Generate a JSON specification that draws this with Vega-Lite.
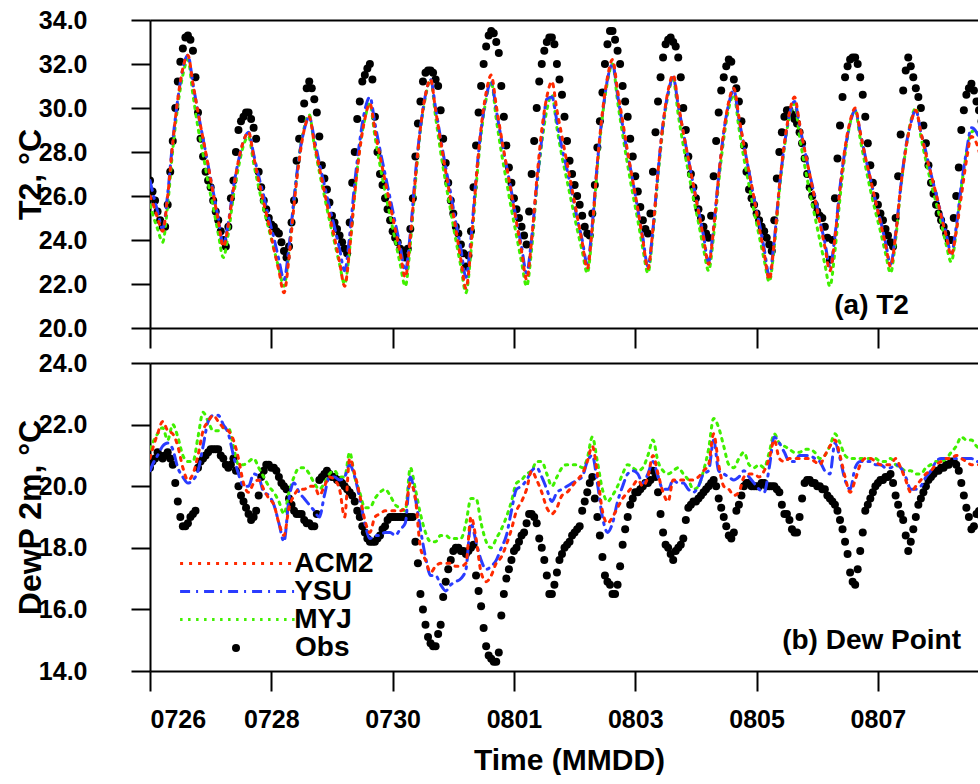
{
"$schema":"https://vega.github.io/schema/vega-lite/v6.json",
"background":"white",
"padding":{"left":14,"top":8,"right":0,"bottom":0},
"config":{"font":"Liberation Sans","view":{"stroke":null},"text":{"font":"Liberation Sans"}},
"datasets":{
"t2":[
{"h":0,"ACM2":26.0,"YSU":26.7,"MYJ":25.6},{"h":1,"ACM2":25.7,"YSU":26.2,"MYJ":25.2},{"h":3,"ACM2":25.0,"YSU":25.3,"MYJ":24.5},{"h":5,"ACM2":24.4,"YSU":24.5,"MYJ":23.9},{"h":7,"ACM2":26.0,"YSU":26.1,"MYJ":25.6},{"h":9,"ACM2":28.4,"YSU":28.5,"MYJ":28.1},{"h":11,"ACM2":30.4,"YSU":30.4,"MYJ":30.1},{"h":13,"ACM2":31.8,"YSU":31.8,"MYJ":31.5},{"h":15,"ACM2":32.4,"YSU":32.4,"MYJ":32.2},{"h":17,"ACM2":31.1,"YSU":31.1,"MYJ":30.6},{"h":19,"ACM2":29.8,"YSU":29.8,"MYJ":29.1},{"h":21,"ACM2":28.6,"YSU":28.6,"MYJ":27.9},{"h":23,"ACM2":27.4,"YSU":27.4,"MYJ":26.6},
{"h":25,"ACM2":26.1,"YSU":26.2,"MYJ":25.5},{"h":27,"ACM2":24.9,"YSU":25.0,"MYJ":24.3},{"h":29,"ACM2":23.7,"YSU":23.8,"MYJ":23.2},{"h":31,"ACM2":24.7,"YSU":24.8,"MYJ":24.3},{"h":33,"ACM2":26.3,"YSU":26.4,"MYJ":26.0},{"h":35,"ACM2":27.6,"YSU":27.6,"MYJ":27.3},{"h":37,"ACM2":28.5,"YSU":28.5,"MYJ":28.3},{"h":39,"ACM2":28.9,"YSU":28.9,"MYJ":28.7},{"h":41,"ACM2":27.8,"YSU":27.9,"MYJ":27.5},{"h":43,"ACM2":26.7,"YSU":26.9,"MYJ":26.4},{"h":45,"ACM2":25.7,"YSU":26.0,"MYJ":25.4},{"h":47,"ACM2":24.7,"YSU":25.0,"MYJ":24.5},
{"h":49,"ACM2":23.6,"YSU":24.1,"MYJ":23.6},{"h":51,"ACM2":22.6,"YSU":23.1,"MYJ":22.7},{"h":53,"ACM2":21.6,"YSU":22.2,"MYJ":21.9},{"h":55,"ACM2":23.2,"YSU":23.7,"MYJ":23.5},{"h":57,"ACM2":25.6,"YSU":25.9,"MYJ":25.8},{"h":59,"ACM2":27.6,"YSU":27.8,"MYJ":27.8},{"h":61,"ACM2":29.0,"YSU":29.0,"MYJ":29.1},{"h":63,"ACM2":29.6,"YSU":29.6,"MYJ":29.7},{"h":65,"ACM2":28.4,"YSU":28.6,"MYJ":28.3},{"h":67,"ACM2":27.3,"YSU":27.5,"MYJ":27.1},{"h":69,"ACM2":26.2,"YSU":26.5,"MYJ":26.0},{"h":71,"ACM2":25.1,"YSU":25.5,"MYJ":24.9},
{"h":73,"ACM2":24.1,"YSU":24.6,"MYJ":23.9},{"h":75,"ACM2":23.0,"YSU":23.6,"MYJ":22.9},{"h":77,"ACM2":21.9,"YSU":22.6,"MYJ":22.0},{"h":79,"ACM2":23.6,"YSU":24.2,"MYJ":23.6},{"h":81,"ACM2":26.1,"YSU":26.6,"MYJ":26.1},{"h":83,"ACM2":28.1,"YSU":28.5,"MYJ":28.2},{"h":85,"ACM2":29.5,"YSU":29.9,"MYJ":29.5},{"h":87,"ACM2":30.2,"YSU":30.5,"MYJ":30.2},{"h":89,"ACM2":29.0,"YSU":29.3,"MYJ":28.7},{"h":91,"ACM2":27.8,"YSU":28.1,"MYJ":27.4},{"h":93,"ACM2":26.7,"YSU":27.0,"MYJ":26.2},{"h":95,"ACM2":25.6,"YSU":25.9,"MYJ":25.1},
{"h":97,"ACM2":24.5,"YSU":24.8,"MYJ":24.0},{"h":99,"ACM2":23.4,"YSU":23.7,"MYJ":22.9},{"h":101,"ACM2":22.3,"YSU":22.6,"MYJ":21.9},{"h":103,"ACM2":24.1,"YSU":24.3,"MYJ":23.8},{"h":105,"ACM2":26.8,"YSU":27.0,"MYJ":26.6},{"h":107,"ACM2":29.1,"YSU":29.1,"MYJ":29.0},{"h":109,"ACM2":30.6,"YSU":30.6,"MYJ":30.5},{"h":111,"ACM2":31.3,"YSU":31.3,"MYJ":31.3},{"h":113,"ACM2":29.9,"YSU":30.0,"MYJ":29.6},{"h":115,"ACM2":28.5,"YSU":28.6,"MYJ":28.0},{"h":117,"ACM2":27.1,"YSU":27.3,"MYJ":26.6},{"h":119,"ACM2":25.8,"YSU":26.1,"MYJ":25.3},
{"h":121,"ACM2":24.5,"YSU":24.8,"MYJ":24.0},{"h":123,"ACM2":23.1,"YSU":23.6,"MYJ":22.8},{"h":125,"ACM2":21.8,"YSU":22.3,"MYJ":21.6},{"h":127,"ACM2":23.7,"YSU":24.1,"MYJ":23.5},{"h":129,"ACM2":26.7,"YSU":26.8,"MYJ":26.4},{"h":131,"ACM2":29.1,"YSU":29.0,"MYJ":28.8},{"h":133,"ACM2":30.7,"YSU":30.5,"MYJ":30.4},{"h":135,"ACM2":31.5,"YSU":31.2,"MYJ":31.2},{"h":137,"ACM2":30.1,"YSU":29.9,"MYJ":29.5},{"h":139,"ACM2":28.7,"YSU":28.6,"MYJ":28.0},{"h":141,"ACM2":27.4,"YSU":27.4,"MYJ":26.7},{"h":143,"ACM2":26.1,"YSU":26.2,"MYJ":25.4},
{"h":145,"ACM2":24.8,"YSU":24.9,"MYJ":24.2},{"h":147,"ACM2":23.5,"YSU":23.7,"MYJ":23.0},{"h":149,"ACM2":22.2,"YSU":22.5,"MYJ":21.9},{"h":151,"ACM2":24.0,"YSU":24.1,"MYJ":23.6},{"h":153,"ACM2":26.7,"YSU":26.5,"MYJ":26.3},{"h":155,"ACM2":29.0,"YSU":28.6,"MYJ":28.4},{"h":157,"ACM2":30.5,"YSU":30.4,"MYJ":29.9},{"h":159,"ACM2":31.2,"YSU":30.5,"MYJ":30.6},{"h":161,"ACM2":29.9,"YSU":29.4,"MYJ":29.1},{"h":163,"ACM2":28.7,"YSU":28.2,"MYJ":27.8},{"h":165,"ACM2":27.5,"YSU":27.2,"MYJ":26.7},{"h":167,"ACM2":26.3,"YSU":26.1,"MYJ":25.6},
{"h":169,"ACM2":25.1,"YSU":25.0,"MYJ":24.5},{"h":171,"ACM2":23.9,"YSU":24.0,"MYJ":23.5},{"h":173,"ACM2":22.7,"YSU":22.9,"MYJ":22.5},{"h":175,"ACM2":24.6,"YSU":24.7,"MYJ":24.4},{"h":177,"ACM2":27.5,"YSU":27.5,"MYJ":27.3},{"h":179,"ACM2":29.8,"YSU":29.7,"MYJ":29.6},{"h":181,"ACM2":31.4,"YSU":31.3,"MYJ":31.2},{"h":183,"ACM2":32.2,"YSU":32.0,"MYJ":32.0},{"h":185,"ACM2":30.8,"YSU":30.6,"MYJ":30.3},{"h":187,"ACM2":29.4,"YSU":29.2,"MYJ":28.8},{"h":189,"ACM2":28.0,"YSU":27.9,"MYJ":27.4},{"h":191,"ACM2":26.7,"YSU":26.7,"MYJ":26.1},
{"h":193,"ACM2":25.4,"YSU":25.4,"MYJ":24.9},{"h":195,"ACM2":24.0,"YSU":24.1,"MYJ":23.6},{"h":197,"ACM2":22.7,"YSU":22.8,"MYJ":22.5},{"h":199,"ACM2":24.5,"YSU":24.5,"MYJ":24.3},{"h":201,"ACM2":27.1,"YSU":27.1,"MYJ":26.9},{"h":203,"ACM2":29.3,"YSU":29.3,"MYJ":29.1},{"h":205,"ACM2":30.8,"YSU":30.7,"MYJ":30.6},{"h":207,"ACM2":31.5,"YSU":31.4,"MYJ":31.3},{"h":209,"ACM2":30.2,"YSU":30.1,"MYJ":29.7},{"h":211,"ACM2":28.9,"YSU":28.9,"MYJ":28.3},{"h":213,"ACM2":27.7,"YSU":27.7,"MYJ":27.1},{"h":215,"ACM2":26.5,"YSU":26.5,"MYJ":25.9},
{"h":217,"ACM2":25.3,"YSU":25.4,"MYJ":24.8},{"h":219,"ACM2":24.1,"YSU":24.2,"MYJ":23.6},{"h":221,"ACM2":22.9,"YSU":23.0,"MYJ":22.6},{"h":223,"ACM2":24.5,"YSU":24.6,"MYJ":24.2},{"h":225,"ACM2":26.9,"YSU":26.9,"MYJ":26.6},{"h":227,"ACM2":28.9,"YSU":28.9,"MYJ":28.6},{"h":229,"ACM2":30.3,"YSU":30.2,"MYJ":30.0},{"h":231,"ACM2":30.9,"YSU":30.8,"MYJ":30.6},{"h":233,"ACM2":29.6,"YSU":29.5,"MYJ":29.1},{"h":235,"ACM2":28.3,"YSU":28.3,"MYJ":27.7},{"h":237,"ACM2":27.1,"YSU":27.1,"MYJ":26.5},{"h":239,"ACM2":25.9,"YSU":25.9,"MYJ":25.3},
{"h":241,"ACM2":24.6,"YSU":24.8,"MYJ":24.2},{"h":243,"ACM2":23.4,"YSU":23.6,"MYJ":23.1},{"h":245,"ACM2":22.2,"YSU":22.4,"MYJ":22.1},{"h":247,"ACM2":23.9,"YSU":24.0,"MYJ":23.7},{"h":249,"ACM2":26.4,"YSU":26.4,"MYJ":26.2},{"h":251,"ACM2":28.4,"YSU":28.3,"MYJ":28.2},{"h":253,"ACM2":29.8,"YSU":29.7,"MYJ":29.6},{"h":255,"ACM2":30.5,"YSU":30.3,"MYJ":30.2},{"h":257,"ACM2":29.3,"YSU":29.2,"MYJ":28.7},{"h":259,"ACM2":28.1,"YSU":28.1,"MYJ":27.4},{"h":261,"ACM2":27.0,"YSU":27.0,"MYJ":26.2},{"h":263,"ACM2":25.9,"YSU":26.0,"MYJ":25.1},
{"h":265,"ACM2":24.8,"YSU":24.9,"MYJ":24.0},{"h":267,"ACM2":23.7,"YSU":23.9,"MYJ":22.9},{"h":269,"ACM2":22.6,"YSU":22.8,"MYJ":21.9},{"h":271,"ACM2":24.1,"YSU":24.2,"MYJ":23.5},{"h":273,"ACM2":26.3,"YSU":26.4,"MYJ":25.9},{"h":275,"ACM2":28.2,"YSU":28.1,"MYJ":27.9},{"h":277,"ACM2":29.4,"YSU":29.3,"MYJ":29.3},{"h":279,"ACM2":30.0,"YSU":29.9,"MYJ":29.9},{"h":281,"ACM2":28.9,"YSU":28.9,"MYJ":28.6},{"h":283,"ACM2":27.8,"YSU":27.8,"MYJ":27.4},{"h":285,"ACM2":26.8,"YSU":26.8,"MYJ":26.3},{"h":287,"ACM2":25.8,"YSU":25.8,"MYJ":25.3},
{"h":289,"ACM2":24.8,"YSU":24.9,"MYJ":24.4},{"h":291,"ACM2":23.8,"YSU":23.9,"MYJ":23.4},{"h":293,"ACM2":22.8,"YSU":22.9,"MYJ":22.5},{"h":295,"ACM2":24.2,"YSU":24.3,"MYJ":24.0},{"h":297,"ACM2":26.4,"YSU":26.4,"MYJ":26.3},{"h":299,"ACM2":28.1,"YSU":28.2,"MYJ":28.1},{"h":301,"ACM2":29.3,"YSU":29.3,"MYJ":29.4},{"h":303,"ACM2":29.9,"YSU":29.9,"MYJ":30.0},{"h":305,"ACM2":28.9,"YSU":28.9,"MYJ":28.7},{"h":307,"ACM2":27.9,"YSU":28.0,"MYJ":27.6},{"h":309,"ACM2":27.0,"YSU":27.0,"MYJ":26.6},{"h":311,"ACM2":26.1,"YSU":26.1,"MYJ":25.7},
{"h":313,"ACM2":25.1,"YSU":25.2,"MYJ":24.8},{"h":315,"ACM2":24.2,"YSU":24.3,"MYJ":23.8},{"h":317,"ACM2":23.3,"YSU":23.4,"MYJ":23.0},{"h":319,"ACM2":24.4,"YSU":24.6,"MYJ":24.4},{"h":321,"ACM2":26.0,"YSU":26.5,"MYJ":26.4},{"h":323,"ACM2":27.6,"YSU":28.0,"MYJ":27.9},{"h":325,"ACM2":28.7,"YSU":29.1,"MYJ":28.9},{"h":327,"ACM2":28.4,"YSU":28.9,"MYJ":29.0},{"h":329,"ACM2":27.6,"YSU":28.2,"MYJ":28.0},{"h":331,"ACM2":26.8,"YSU":27.4,"MYJ":27.0}
],
"dp":[
{"h":0,"ACM2":20.9,"YSU":20.5,"MYJ":21.2},{"h":1,"ACM2":21.2,"YSU":20.7,"MYJ":21.4},{"h":3,"ACM2":21.7,"YSU":21.0,"MYJ":21.7},{"h":5,"ACM2":22.1,"YSU":21.3,"MYJ":21.9},{"h":7,"ACM2":21.8,"YSU":21.4,"MYJ":21.5},{"h":9,"ACM2":21.7,"YSU":21.2,"MYJ":22.0},{"h":11,"ACM2":21.3,"YSU":20.6,"MYJ":21.6},{"h":13,"ACM2":20.6,"YSU":20.3,"MYJ":21.0},{"h":15,"ACM2":20.2,"YSU":20.1,"MYJ":20.8},{"h":17,"ACM2":20.4,"YSU":20.2,"MYJ":20.8},{"h":19,"ACM2":21.0,"YSU":20.5,"MYJ":21.6},{"h":21,"ACM2":21.8,"YSU":21.3,"MYJ":22.4},{"h":23,"ACM2":22.1,"YSU":22.1,"MYJ":22.1},
{"h":25,"ACM2":22.3,"YSU":22.3,"MYJ":21.8},{"h":27,"ACM2":22.1,"YSU":22.3,"MYJ":21.8},{"h":29,"ACM2":21.9,"YSU":22.0,"MYJ":21.9},{"h":31,"ACM2":21.8,"YSU":21.7,"MYJ":21.9},{"h":33,"ACM2":21.5,"YSU":21.0,"MYJ":21.3},{"h":35,"ACM2":20.9,"YSU":20.4,"MYJ":20.7},{"h":37,"ACM2":20.1,"YSU":20.0,"MYJ":20.7},{"h":39,"ACM2":19.8,"YSU":20.0,"MYJ":20.8},{"h":41,"ACM2":20.1,"YSU":20.4,"MYJ":20.9},{"h":43,"ACM2":20.2,"YSU":20.3,"MYJ":20.6},{"h":45,"ACM2":19.9,"YSU":19.8,"MYJ":20.3},{"h":47,"ACM2":19.6,"YSU":19.7,"MYJ":20.0},
{"h":49,"ACM2":19.4,"YSU":19.4,"MYJ":19.8},{"h":51,"ACM2":18.8,"YSU":18.8,"MYJ":19.5},{"h":53,"ACM2":18.4,"YSU":18.2,"MYJ":19.1},{"h":55,"ACM2":19.3,"YSU":19.6,"MYJ":19.8},{"h":57,"ACM2":19.7,"YSU":20.1,"MYJ":20.3},{"h":59,"ACM2":19.9,"YSU":19.8,"MYJ":20.6},{"h":61,"ACM2":19.9,"YSU":19.6,"MYJ":20.6},{"h":63,"ACM2":20.0,"YSU":19.4,"MYJ":20.4},{"h":65,"ACM2":20.0,"YSU":19.2,"MYJ":20.1},{"h":67,"ACM2":19.7,"YSU":19.0,"MYJ":19.9},{"h":69,"ACM2":20.0,"YSU":19.7,"MYJ":20.1},{"h":71,"ACM2":20.3,"YSU":20.3,"MYJ":20.4},
{"h":73,"ACM2":20.2,"YSU":20.3,"MYJ":20.5},{"h":75,"ACM2":19.9,"YSU":20.2,"MYJ":20.3},{"h":77,"ACM2":19.0,"YSU":20.3,"MYJ":20.3},{"h":79,"ACM2":20.9,"YSU":20.7,"MYJ":21.1},{"h":81,"ACM2":20.4,"YSU":20.3,"MYJ":20.3},{"h":83,"ACM2":19.7,"YSU":19.6,"MYJ":19.8},{"h":85,"ACM2":18.9,"YSU":18.8,"MYJ":19.3},{"h":87,"ACM2":18.5,"YSU":18.3,"MYJ":19.3},{"h":89,"ACM2":19.0,"YSU":18.4,"MYJ":19.6},{"h":91,"ACM2":19.1,"YSU":18.4,"MYJ":19.8},{"h":93,"ACM2":19.2,"YSU":18.5,"MYJ":19.9},{"h":95,"ACM2":19.2,"YSU":18.5,"MYJ":19.7},
{"h":97,"ACM2":19.2,"YSU":18.4,"MYJ":19.4},{"h":99,"ACM2":19.2,"YSU":18.6,"MYJ":19.3},{"h":101,"ACM2":19.3,"YSU":18.8,"MYJ":19.2},{"h":103,"ACM2":20.1,"YSU":20.3,"MYJ":20.6},{"h":105,"ACM2":19.6,"YSU":19.6,"MYJ":19.9},{"h":107,"ACM2":18.0,"YSU":18.6,"MYJ":19.1},{"h":109,"ACM2":17.6,"YSU":17.7,"MYJ":18.5},{"h":111,"ACM2":17.2,"YSU":17.1,"MYJ":18.2},{"h":113,"ACM2":17.4,"YSU":17.1,"MYJ":18.2},{"h":115,"ACM2":17.5,"YSU":16.8,"MYJ":18.4},{"h":117,"ACM2":17.5,"YSU":16.6,"MYJ":18.4},{"h":119,"ACM2":17.5,"YSU":16.8,"MYJ":18.3},
{"h":121,"ACM2":17.4,"YSU":16.9,"MYJ":18.3},{"h":123,"ACM2":17.4,"YSU":17.0,"MYJ":18.3},{"h":125,"ACM2":17.5,"YSU":17.3,"MYJ":18.8},{"h":127,"ACM2":19.0,"YSU":18.8,"MYJ":19.6},{"h":129,"ACM2":18.3,"YSU":18.2,"MYJ":19.6},{"h":131,"ACM2":17.2,"YSU":17.6,"MYJ":18.8},{"h":133,"ACM2":16.9,"YSU":17.3,"MYJ":18.2},{"h":135,"ACM2":17.1,"YSU":17.4,"MYJ":18.0},{"h":137,"ACM2":17.5,"YSU":17.6,"MYJ":18.3},{"h":139,"ACM2":17.7,"YSU":18.0,"MYJ":18.6},{"h":141,"ACM2":18.1,"YSU":18.4,"MYJ":19.0},{"h":143,"ACM2":18.6,"YSU":19.2,"MYJ":19.5},
{"h":145,"ACM2":19.2,"YSU":19.9,"MYJ":20.1},{"h":147,"ACM2":19.5,"YSU":20.0,"MYJ":20.2},{"h":149,"ACM2":19.9,"YSU":20.2,"MYJ":20.4},{"h":151,"ACM2":20.5,"YSU":20.5,"MYJ":20.5},{"h":153,"ACM2":20.2,"YSU":20.6,"MYJ":20.8},{"h":155,"ACM2":19.8,"YSU":20.3,"MYJ":20.8},{"h":157,"ACM2":19.3,"YSU":19.9,"MYJ":20.4},{"h":159,"ACM2":19.1,"YSU":19.5,"MYJ":20.0},{"h":161,"ACM2":19.3,"YSU":19.8,"MYJ":20.3},{"h":163,"ACM2":19.7,"YSU":19.9,"MYJ":20.6},{"h":165,"ACM2":19.8,"YSU":20.0,"MYJ":20.7},{"h":167,"ACM2":20.0,"YSU":20.1,"MYJ":20.7},
{"h":169,"ACM2":20.2,"YSU":20.2,"MYJ":20.7},{"h":171,"ACM2":20.4,"YSU":20.3,"MYJ":20.6},{"h":173,"ACM2":20.8,"YSU":20.8,"MYJ":20.9},{"h":175,"ACM2":21.3,"YSU":21.0,"MYJ":21.6},{"h":177,"ACM2":20.4,"YSU":20.1,"MYJ":20.8},{"h":179,"ACM2":19.2,"YSU":19.0,"MYJ":19.9},{"h":181,"ACM2":18.8,"YSU":18.5,"MYJ":19.5},{"h":183,"ACM2":19.0,"YSU":18.8,"MYJ":19.7},{"h":185,"ACM2":19.3,"YSU":19.5,"MYJ":20.0},{"h":187,"ACM2":19.6,"YSU":20.0,"MYJ":20.4},{"h":189,"ACM2":19.8,"YSU":20.4,"MYJ":20.7},{"h":191,"ACM2":20.0,"YSU":20.5,"MYJ":20.6},
{"h":193,"ACM2":20.2,"YSU":20.4,"MYJ":20.5},{"h":195,"ACM2":20.0,"YSU":20.1,"MYJ":20.6},{"h":197,"ACM2":20.3,"YSU":20.4,"MYJ":21.0},{"h":199,"ACM2":21.0,"YSU":20.8,"MYJ":21.5},{"h":201,"ACM2":20.4,"YSU":20.3,"MYJ":20.8},{"h":203,"ACM2":19.8,"YSU":19.9,"MYJ":20.5},{"h":205,"ACM2":19.5,"YSU":19.9,"MYJ":20.4},{"h":207,"ACM2":20.2,"YSU":20.2,"MYJ":20.5},{"h":209,"ACM2":20.2,"YSU":20.1,"MYJ":20.6},{"h":211,"ACM2":20.2,"YSU":20.1,"MYJ":20.4},{"h":213,"ACM2":20.2,"YSU":19.9,"MYJ":20.2},{"h":215,"ACM2":20.2,"YSU":19.8,"MYJ":19.9},
{"h":217,"ACM2":20.3,"YSU":20.0,"MYJ":20.0},{"h":219,"ACM2":20.5,"YSU":20.4,"MYJ":20.5},{"h":221,"ACM2":20.7,"YSU":20.5,"MYJ":21.2},{"h":223,"ACM2":21.7,"YSU":21.5,"MYJ":22.2},{"h":225,"ACM2":20.7,"YSU":20.5,"MYJ":21.9},{"h":227,"ACM2":20.0,"YSU":20.4,"MYJ":21.3},{"h":229,"ACM2":19.9,"YSU":20.3,"MYJ":20.7},{"h":231,"ACM2":19.7,"YSU":20.2,"MYJ":20.6},{"h":233,"ACM2":19.8,"YSU":20.3,"MYJ":20.9},{"h":235,"ACM2":20.3,"YSU":20.5,"MYJ":21.1},{"h":237,"ACM2":20.4,"YSU":20.3,"MYJ":20.7},{"h":239,"ACM2":20.4,"YSU":20.1,"MYJ":20.6},
{"h":241,"ACM2":20.3,"YSU":19.9,"MYJ":20.7},{"h":243,"ACM2":20.5,"YSU":19.8,"MYJ":20.6},{"h":245,"ACM2":20.9,"YSU":20.6,"MYJ":21.1},{"h":247,"ACM2":21.5,"YSU":21.6,"MYJ":21.7},{"h":249,"ACM2":20.9,"YSU":21.4,"MYJ":21.4},{"h":251,"ACM2":20.8,"YSU":21.1,"MYJ":21.3},{"h":253,"ACM2":20.9,"YSU":20.8,"MYJ":21.2},{"h":255,"ACM2":20.9,"YSU":20.8,"MYJ":21.1},{"h":257,"ACM2":20.9,"YSU":21.0,"MYJ":21.1},{"h":259,"ACM2":20.9,"YSU":21.0,"MYJ":21.2},{"h":261,"ACM2":20.9,"YSU":21.0,"MYJ":21.2},{"h":263,"ACM2":20.8,"YSU":20.9,"MYJ":21.1},
{"h":265,"ACM2":20.7,"YSU":20.8,"MYJ":20.9},{"h":267,"ACM2":21.0,"YSU":20.5,"MYJ":21.0},{"h":269,"ACM2":21.3,"YSU":20.4,"MYJ":21.3},{"h":271,"ACM2":21.5,"YSU":21.4,"MYJ":21.7},{"h":273,"ACM2":21.0,"YSU":20.9,"MYJ":21.4},{"h":275,"ACM2":20.3,"YSU":20.2,"MYJ":21.0},{"h":277,"ACM2":19.8,"YSU":19.9,"MYJ":20.9},{"h":279,"ACM2":20.2,"YSU":20.6,"MYJ":20.9},{"h":281,"ACM2":20.7,"YSU":20.8,"MYJ":20.9},{"h":283,"ACM2":20.9,"YSU":20.8,"MYJ":20.9},{"h":285,"ACM2":20.9,"YSU":20.8,"MYJ":20.9},{"h":287,"ACM2":20.8,"YSU":20.7,"MYJ":20.9},
{"h":289,"ACM2":20.7,"YSU":20.7,"MYJ":20.8},{"h":291,"ACM2":20.7,"YSU":20.6,"MYJ":20.8},{"h":293,"ACM2":20.7,"YSU":20.6,"MYJ":20.9},{"h":295,"ACM2":20.9,"YSU":20.7,"MYJ":20.7},{"h":297,"ACM2":20.6,"YSU":20.6,"MYJ":20.6},{"h":299,"ACM2":20.2,"YSU":20.3,"MYJ":20.5},{"h":301,"ACM2":19.8,"YSU":19.9,"MYJ":20.5},{"h":303,"ACM2":20.0,"YSU":19.9,"MYJ":20.4},{"h":305,"ACM2":20.2,"YSU":20.0,"MYJ":20.4},{"h":307,"ACM2":20.4,"YSU":20.3,"MYJ":20.6},{"h":309,"ACM2":20.5,"YSU":20.5,"MYJ":20.7},{"h":311,"ACM2":20.7,"YSU":20.8,"MYJ":20.8},
{"h":313,"ACM2":20.8,"YSU":20.9,"MYJ":20.8},{"h":315,"ACM2":20.9,"YSU":20.9,"MYJ":20.9},{"h":317,"ACM2":20.9,"YSU":20.9,"MYJ":21.1},{"h":319,"ACM2":21.0,"YSU":20.9,"MYJ":21.3},{"h":321,"ACM2":20.9,"YSU":20.9,"MYJ":21.6},{"h":323,"ACM2":20.8,"YSU":20.9,"MYJ":21.5},{"h":325,"ACM2":20.7,"YSU":20.9,"MYJ":21.5},{"h":327,"ACM2":20.7,"YSU":20.8,"MYJ":21.3},{"h":329,"ACM2":20.7,"YSU":20.8,"MYJ":21.2},{"h":331,"ACM2":20.7,"YSU":20.8,"MYJ":21.2}
],
"obs":[
{"h":0,"T2":26.7,"DP":20.6},{"h":1,"T2":26.2,"DP":20.8},{"h":2,"T2":25.8,"DP":20.9},{"h":3,"T2":25.3,"DP":21.1},{"h":4,"T2":24.9,"DP":21.0},{"h":5,"T2":24.6,"DP":20.9},{"h":6,"T2":24.6,"DP":21.0},{"h":7,"T2":25.6,"DP":21.1},{"h":8,"T2":27.1,"DP":20.9},{"h":9,"T2":28.5,"DP":20.7},{"h":10,"T2":30.0,"DP":20.1},{"h":11,"T2":31.2,"DP":19.5},{"h":12,"T2":32.1,"DP":19.0},{"h":13,"T2":32.7,"DP":18.7},{"h":14,"T2":33.2,"DP":18.7},{"h":15,"T2":33.3,"DP":18.8},{"h":16,"T2":33.1,"DP":19.0},{"h":17,"T2":32.6,"DP":19.1},{"h":18,"T2":31.4,"DP":19.2},{"h":19,"T2":29.8,"DP":20.6},{"h":20,"T2":28.6,"DP":20.8},{"h":21,"T2":27.8,"DP":20.9},{"h":22,"T2":27.1,"DP":21.0},{"h":23,"T2":26.7,"DP":21.1},
{"h":24,"T2":26.4,"DP":21.2},{"h":25,"T2":25.8,"DP":21.2},{"h":26,"T2":25.3,"DP":21.2},{"h":27,"T2":24.9,"DP":21.2},{"h":28,"T2":24.4,"DP":21.0},{"h":29,"T2":24.0,"DP":20.9},{"h":30,"T2":23.7,"DP":20.7},{"h":31,"T2":24.6,"DP":20.6},{"h":32,"T2":25.9,"DP":20.7},{"h":33,"T2":26.7,"DP":20.9},{"h":34,"T2":28.0,"DP":20.5},{"h":35,"T2":29.0,"DP":20.0},{"h":36,"T2":29.4,"DP":19.7},{"h":37,"T2":29.6,"DP":19.5},{"h":38,"T2":29.8,"DP":19.3},{"h":39,"T2":29.8,"DP":19.1},{"h":40,"T2":29.5,"DP":18.9},{"h":41,"T2":29.1,"DP":19.0},{"h":42,"T2":28.6,"DP":19.2},{"h":43,"T2":27.1,"DP":19.7},{"h":44,"T2":26.4,"DP":20.3},{"h":45,"T2":25.8,"DP":20.5},{"h":46,"T2":25.4,"DP":20.7},{"h":47,"T2":25.0,"DP":20.7},
{"h":48,"T2":24.7,"DP":20.6},{"h":49,"T2":24.6,"DP":20.6},{"h":50,"T2":24.4,"DP":20.5},{"h":51,"T2":24.3,"DP":20.3},{"h":52,"T2":23.9,"DP":20.1},{"h":53,"T2":23.5,"DP":20.0},{"h":54,"T2":23.2,"DP":19.9},{"h":55,"T2":23.7,"DP":19.6},{"h":56,"T2":24.8,"DP":19.4},{"h":57,"T2":25.8,"DP":19.2},{"h":58,"T2":27.6,"DP":19.1},{"h":59,"T2":28.6,"DP":19.1},{"h":60,"T2":29.5,"DP":19.1},{"h":61,"T2":30.2,"DP":18.9},{"h":62,"T2":30.9,"DP":18.8},{"h":63,"T2":31.2,"DP":18.8},{"h":64,"T2":30.9,"DP":18.7},{"h":65,"T2":30.4,"DP":18.7},{"h":66,"T2":29.8,"DP":19.1},{"h":67,"T2":28.7,"DP":20.2},{"h":68,"T2":27.4,"DP":20.3},{"h":69,"T2":26.8,"DP":20.4},{"h":70,"T2":26.3,"DP":20.5},{"h":71,"T2":25.7,"DP":20.4},
{"h":72,"T2":25.1,"DP":20.3},{"h":73,"T2":24.8,"DP":20.3},{"h":74,"T2":24.5,"DP":20.2},{"h":75,"T2":24.2,"DP":20.2},{"h":76,"T2":23.9,"DP":20.1},{"h":77,"T2":23.6,"DP":20.0},{"h":78,"T2":23.4,"DP":19.9},{"h":79,"T2":24.8,"DP":19.8},{"h":80,"T2":26.6,"DP":19.7},{"h":81,"T2":28.0,"DP":19.5},{"h":82,"T2":29.5,"DP":19.2},{"h":83,"T2":30.3,"DP":19.0},{"h":84,"T2":31.2,"DP":18.7},{"h":85,"T2":31.5,"DP":18.5},{"h":86,"T2":31.8,"DP":18.3},{"h":87,"T2":32.0,"DP":18.2},{"h":88,"T2":31.3,"DP":18.2},{"h":89,"T2":29.6,"DP":18.2},{"h":90,"T2":28.0,"DP":18.3},{"h":91,"T2":27.0,"DP":18.4},{"h":92,"T2":26.5,"DP":18.6},{"h":93,"T2":25.9,"DP":18.7},{"h":94,"T2":25.4,"DP":18.9},{"h":95,"T2":24.9,"DP":19.0},
{"h":96,"T2":24.4,"DP":19.0},{"h":97,"T2":24.1,"DP":19.0},{"h":98,"T2":23.9,"DP":19.0},{"h":99,"T2":23.6,"DP":19.0},{"h":100,"T2":23.4,"DP":19.0},{"h":101,"T2":23.2,"DP":19.0},{"h":102,"T2":23.6,"DP":19.0},{"h":103,"T2":24.5,"DP":19.0},{"h":104,"T2":25.9,"DP":19.0},{"h":105,"T2":27.8,"DP":18.2},{"h":106,"T2":29.3,"DP":17.5},{"h":107,"T2":30.3,"DP":16.5},{"h":108,"T2":31.2,"DP":16.0},{"h":109,"T2":31.6,"DP":15.5},{"h":110,"T2":31.7,"DP":15.1},{"h":111,"T2":31.7,"DP":14.9},{"h":112,"T2":31.6,"DP":14.8},{"h":113,"T2":31.3,"DP":14.8},{"h":114,"T2":31.0,"DP":15.2},{"h":115,"T2":29.9,"DP":15.5},{"h":116,"T2":28.6,"DP":16.4},{"h":117,"T2":27.5,"DP":16.9},{"h":118,"T2":26.6,"DP":17.3},{"h":119,"T2":25.8,"DP":17.6},
{"h":120,"T2":25.2,"DP":17.9},{"h":121,"T2":24.6,"DP":18.0},{"h":122,"T2":24.3,"DP":18.0},{"h":123,"T2":23.8,"DP":17.9},{"h":124,"T2":23.4,"DP":17.9},{"h":125,"T2":22.8,"DP":17.8},{"h":126,"T2":23.3,"DP":17.9},{"h":127,"T2":24.4,"DP":18.0},{"h":128,"T2":26.4,"DP":18.1},{"h":129,"T2":28.3,"DP":17.1},{"h":130,"T2":29.8,"DP":16.6},{"h":131,"T2":31.0,"DP":16.1},{"h":132,"T2":32.0,"DP":15.4},{"h":133,"T2":32.8,"DP":14.8},{"h":134,"T2":33.3,"DP":14.5},{"h":135,"T2":33.5,"DP":14.4},{"h":136,"T2":33.4,"DP":14.3},{"h":137,"T2":33.0,"DP":14.3},{"h":138,"T2":32.5,"DP":14.6},{"h":139,"T2":31.0,"DP":15.8},{"h":140,"T2":29.6,"DP":16.5},{"h":141,"T2":28.3,"DP":17.0},{"h":142,"T2":27.3,"DP":17.3},{"h":143,"T2":26.6,"DP":17.6},
{"h":144,"T2":25.9,"DP":17.9},{"h":145,"T2":25.4,"DP":18.0},{"h":146,"T2":25.0,"DP":18.2},{"h":147,"T2":24.6,"DP":18.4},{"h":148,"T2":24.2,"DP":18.5},{"h":149,"T2":23.8,"DP":18.8},{"h":150,"T2":25.3,"DP":19.1},{"h":151,"T2":27.0,"DP":19.1},{"h":152,"T2":28.5,"DP":19.0},{"h":153,"T2":30.0,"DP":18.8},{"h":154,"T2":31.2,"DP":18.3},{"h":155,"T2":32.0,"DP":18.0},{"h":156,"T2":32.6,"DP":17.6},{"h":157,"T2":33.0,"DP":17.1},{"h":158,"T2":33.2,"DP":16.5},{"h":159,"T2":33.2,"DP":16.5},{"h":160,"T2":32.9,"DP":16.8},{"h":161,"T2":32.0,"DP":17.2},{"h":162,"T2":31.3,"DP":17.6},{"h":163,"T2":30.6,"DP":17.8},{"h":164,"T2":29.6,"DP":18.0},{"h":165,"T2":28.5,"DP":18.1},{"h":166,"T2":27.6,"DP":18.2},{"h":167,"T2":27.0,"DP":18.4},
{"h":168,"T2":26.5,"DP":18.5},{"h":169,"T2":26.0,"DP":18.6},{"h":170,"T2":25.6,"DP":18.7},{"h":171,"T2":25.1,"DP":19.2},{"h":172,"T2":24.6,"DP":19.5},{"h":173,"T2":24.3,"DP":19.8},{"h":174,"T2":24.2,"DP":20.1},{"h":175,"T2":25.2,"DP":20.3},{"h":176,"T2":26.5,"DP":19.6},{"h":177,"T2":28.2,"DP":19.0},{"h":178,"T2":29.4,"DP":18.4},{"h":179,"T2":30.7,"DP":17.7},{"h":180,"T2":32.0,"DP":17.1},{"h":181,"T2":32.9,"DP":16.9},{"h":182,"T2":33.5,"DP":16.8},{"h":183,"T2":33.5,"DP":16.5},{"h":184,"T2":33.1,"DP":16.5},{"h":185,"T2":32.6,"DP":16.8},{"h":186,"T2":32.0,"DP":17.4},{"h":187,"T2":31.0,"DP":18.1},{"h":188,"T2":30.3,"DP":18.6},{"h":189,"T2":29.6,"DP":19.0},{"h":190,"T2":28.6,"DP":19.4},{"h":191,"T2":27.8,"DP":19.6},
{"h":192,"T2":26.9,"DP":19.8},{"h":193,"T2":26.2,"DP":19.8},{"h":194,"T2":25.5,"DP":19.9},{"h":195,"T2":24.9,"DP":20.0},{"h":196,"T2":24.5,"DP":20.1},{"h":197,"T2":24.3,"DP":20.1},{"h":198,"T2":25.2,"DP":20.2},{"h":199,"T2":27.1,"DP":20.5},{"h":200,"T2":28.9,"DP":20.3},{"h":201,"T2":30.3,"DP":19.8},{"h":202,"T2":31.4,"DP":19.1},{"h":203,"T2":32.3,"DP":18.5},{"h":204,"T2":32.9,"DP":18.1},{"h":205,"T2":33.1,"DP":18.0},{"h":206,"T2":33.2,"DP":17.8},{"h":207,"T2":33.0,"DP":17.6},{"h":208,"T2":32.8,"DP":17.9},{"h":209,"T2":32.3,"DP":18.0},{"h":210,"T2":31.4,"DP":18.1},{"h":211,"T2":30.0,"DP":18.3},{"h":212,"T2":29.0,"DP":18.9},{"h":213,"T2":27.8,"DP":19.3},{"h":214,"T2":27.0,"DP":19.4},{"h":215,"T2":26.4,"DP":19.5},
{"h":216,"T2":25.9,"DP":19.5},{"h":217,"T2":25.4,"DP":19.6},{"h":218,"T2":25.0,"DP":19.7},{"h":219,"T2":24.6,"DP":19.8},{"h":220,"T2":24.3,"DP":19.9},{"h":221,"T2":24.1,"DP":20.0},{"h":222,"T2":25.1,"DP":20.1},{"h":223,"T2":26.9,"DP":20.2},{"h":224,"T2":28.5,"DP":20.0},{"h":225,"T2":29.8,"DP":19.6},{"h":226,"T2":30.8,"DP":19.3},{"h":227,"T2":31.4,"DP":19.0},{"h":228,"T2":31.9,"DP":18.7},{"h":229,"T2":32.2,"DP":18.4},{"h":230,"T2":32.1,"DP":18.3},{"h":231,"T2":31.3,"DP":18.5},{"h":232,"T2":30.9,"DP":19.2},{"h":233,"T2":30.3,"DP":19.4},{"h":234,"T2":29.4,"DP":19.7},{"h":235,"T2":28.3,"DP":20.0},{"h":236,"T2":27.1,"DP":20.1},{"h":237,"T2":26.3,"DP":20.1},{"h":238,"T2":25.9,"DP":20.0},{"h":239,"T2":25.6,"DP":20.0},
{"h":240,"T2":25.2,"DP":20.0},{"h":241,"T2":24.9,"DP":20.0},{"h":242,"T2":24.6,"DP":20.1},{"h":243,"T2":24.4,"DP":20.1},{"h":244,"T2":24.1,"DP":20.0},{"h":245,"T2":23.8,"DP":20.0},{"h":246,"T2":23.5,"DP":20.0},{"h":247,"T2":24.9,"DP":20.0},{"h":248,"T2":26.8,"DP":19.9},{"h":249,"T2":28.0,"DP":19.8},{"h":250,"T2":28.9,"DP":19.4},{"h":251,"T2":29.6,"DP":19.1},{"h":252,"T2":29.9,"DP":19.1},{"h":253,"T2":29.9,"DP":18.9},{"h":254,"T2":29.7,"DP":18.6},{"h":255,"T2":29.5,"DP":18.5},{"h":256,"T2":29.3,"DP":18.5},{"h":257,"T2":28.9,"DP":19.0},{"h":258,"T2":28.4,"DP":19.6},{"h":259,"T2":27.7,"DP":20.1},{"h":260,"T2":27.0,"DP":20.2},{"h":261,"T2":26.4,"DP":20.2},{"h":262,"T2":26.0,"DP":20.1},{"h":263,"T2":25.6,"DP":20.1},
{"h":264,"T2":25.3,"DP":20.0},{"h":265,"T2":25.1,"DP":20.0},{"h":266,"T2":25.0,"DP":19.9},{"h":267,"T2":24.6,"DP":19.9},{"h":268,"T2":24.1,"DP":19.7},{"h":269,"T2":23.1,"DP":19.6},{"h":270,"T2":24.0,"DP":19.5},{"h":271,"T2":25.9,"DP":19.4},{"h":272,"T2":27.7,"DP":19.2},{"h":273,"T2":29.2,"DP":18.9},{"h":274,"T2":30.5,"DP":18.6},{"h":275,"T2":31.4,"DP":18.2},{"h":276,"T2":31.9,"DP":17.8},{"h":277,"T2":32.2,"DP":17.2},{"h":278,"T2":32.3,"DP":16.9},{"h":279,"T2":32.3,"DP":16.8},{"h":280,"T2":32.0,"DP":17.3},{"h":281,"T2":31.4,"DP":17.9},{"h":282,"T2":30.6,"DP":18.5},{"h":283,"T2":29.6,"DP":19.2},{"h":284,"T2":28.4,"DP":19.4},{"h":285,"T2":27.4,"DP":19.6},{"h":286,"T2":26.6,"DP":19.8},{"h":287,"T2":26.0,"DP":20.0},
{"h":288,"T2":25.6,"DP":20.1},{"h":289,"T2":25.2,"DP":20.2},{"h":290,"T2":24.9,"DP":20.2},{"h":291,"T2":24.5,"DP":20.3},{"h":292,"T2":24.2,"DP":20.3},{"h":293,"T2":23.9,"DP":20.4},{"h":294,"T2":23.7,"DP":20.1},{"h":295,"T2":25.0,"DP":19.7},{"h":296,"T2":26.9,"DP":19.4},{"h":297,"T2":28.8,"DP":19.1},{"h":298,"T2":30.8,"DP":18.9},{"h":299,"T2":31.7,"DP":18.4},{"h":300,"T2":32.3,"DP":17.9},{"h":301,"T2":31.9,"DP":18.2},{"h":302,"T2":31.4,"DP":18.6},{"h":303,"T2":30.9,"DP":19.0},{"h":304,"T2":30.5,"DP":19.4},{"h":305,"T2":30.0,"DP":19.6},{"h":306,"T2":29.2,"DP":19.8},{"h":307,"T2":28.4,"DP":20.0},{"h":308,"T2":27.4,"DP":20.2},{"h":309,"T2":26.6,"DP":20.3},{"h":310,"T2":26.1,"DP":20.4},{"h":311,"T2":25.6,"DP":20.5},
{"h":312,"T2":25.2,"DP":20.5},{"h":313,"T2":24.9,"DP":20.6},{"h":314,"T2":24.6,"DP":20.6},{"h":315,"T2":24.3,"DP":20.7},{"h":316,"T2":24.0,"DP":20.7},{"h":317,"T2":24.0,"DP":20.8},{"h":318,"T2":25.0,"DP":20.8},{"h":319,"T2":26.0,"DP":20.7},{"h":320,"T2":27.3,"DP":20.5},{"h":321,"T2":29.0,"DP":20.1},{"h":322,"T2":29.9,"DP":19.7},{"h":323,"T2":30.6,"DP":19.3},{"h":324,"T2":30.9,"DP":19.0},{"h":325,"T2":31.1,"DP":18.6},{"h":326,"T2":30.8,"DP":18.7},{"h":327,"T2":30.3,"DP":19.1},{"h":328,"T2":29.9,"DP":19.2},{"h":329,"T2":29.4,"DP":19.0},{"h":330,"T2":28.8,"DP":18.7},{"h":331,"T2":28.2,"DP":18.6}
]
},
"bounds":"flush",
"spacing":35,
"resolve":{"scale":{"color":"independent","strokeDash":"independent","fill":"independent"},"legend":{"color":"independent","strokeDash":"independent","fill":"independent"}},
"vconcat":[
{
"width":828,"height":308,
"resolve":{"axis":{"x":"independent"}},
"layer":[
{"data":{"name":"obs"},
"mark":{"type":"circle","size":64,"color":"black","opacity":1,"clip":true},
"encoding":{
"x":{"field":"h","type":"quantitative","scale":{"domain":[0,327.6],"nice":false,"zero":false},"axis":{"orient":"top","labels":false,"ticks":false,"domain":true,"domainColor":"black","domainWidth":2,"grid":false,"title":null}},
"y":{"field":"T2","type":"quantitative"}}},
{"data":{"name":"t2"},
"transform":[{"fold":["MYJ","YSU","ACM2"],"as":["s","v"]}],
"mark":{"type":"line","strokeWidth":3,"strokeCap":"round","interpolate":"monotone","clip":true},
"encoding":{
"x":{"field":"h","type":"quantitative","axis":{"orient":"bottom","values":[0,48,96,144,192,240,288],"labels":false,"tickSize":20,"tickWidth":2,"tickColor":"black","domainColor":"black","domainWidth":2,"grid":false,"title":null}},
"y":{"field":"v","type":"quantitative","scale":{"domain":[20,34],"nice":false,"zero":false},"axis":{"values":[20,20.5,21,21.5,22,22.5,23,23.5,24,24.5,25,25.5,26,26.5,27,27.5,28,28.5,29,29.5,30,30.5,31,31.5,32,32.5,33,33.5,34],"labelExpr":"datum.value % 2 === 0 ? format(datum.value, '.1f') : ''","tickSize":{"condition":{"test":"datum.value % 2 === 0","value":19},"value":9},"tickWidth":2,"tickColor":"black","domainColor":"black","domainWidth":2,"grid":false,"labelOverlap":false,"labelFlush":false,"labelFont":"Liberation Sans","labelFontSize":25,"labelFontWeight":"bold","labelColor":"black","labelPadding":44,"title":"T2, °C","titleFont":"Liberation Sans","titleFontSize":32,"titleFontWeight":"bold","titleColor":"black","titlePadding":-9}},
"color":{"field":"s","type":"nominal","scale":{"domain":["ACM2","YSU","MYJ"],"range":["#ff2a00","#2a3cff","#40f000"]},"legend":null},
"strokeDash":{"field":"s","type":"nominal","scale":{"domain":["ACM2","YSU","MYJ"],"range":[[3,6],[10,6,2,6],[2.5,5.5]]},"legend":null}}},
{"data":{"values":[{}]},
"mark":{"type":"text","fontSize":28,"fontWeight":"bold","font":"Liberation Sans","align":"center","baseline":"alphabetic","color":"black"},
"encoding":{"x":{"datum":285.5,"type":"quantitative","axis":null},"y":{"datum":20.62,"type":"quantitative"},"text":{"value":"(a) T2"}}}
]},
{
"width":828,"height":308,
"resolve":{"axis":{"x":"independent"}},
"layer":[
{"data":{"name":"obs"},
"mark":{"type":"circle","size":64,"opacity":1,"clip":true},
"encoding":{
"x":{"field":"h","type":"quantitative","scale":{"domain":[0,327.6],"nice":false,"zero":false},"axis":{"orient":"top","labels":false,"ticks":false,"domain":true,"domainColor":"black","domainWidth":2,"grid":false,"title":null}},
"y":{"field":"DP","type":"quantitative"},
"fill":{"datum":"Obs","type":"nominal","scale":{"range":["black"]},"legend":{"orient":"none","legendX":72,"legendY":271,"title":null,"symbolType":"circle","symbolSize":64,"symbolStrokeWidth":0,"labelFont":"Liberation Sans","labelFontSize":28,"labelFontWeight":"bold","labelColor":"black","labelOffset":45,"padding":0}}}},
{"data":{"name":"dp"},
"transform":[{"fold":["MYJ","YSU","ACM2"],"as":["s","v"]}],
"mark":{"type":"line","strokeWidth":3,"strokeCap":"round","interpolate":"monotone","clip":true},
"encoding":{
"x":{"field":"h","type":"quantitative","axis":{"orient":"bottom","values":[0,48,96,144,192,240,288],"labelExpr":"timeFormat(datetime(2012, 6, 26 + datum.value / 24), '%m%d')","tickSize":20,"tickWidth":2,"tickColor":"black","domainColor":"black","domainWidth":2,"grid":false,"labelFont":"Liberation Sans","labelFontSize":25,"labelFontWeight":"bold","labelColor":"black","labelPadding":16,"labelOverlap":false,"title":"Time (MMDD)","titleFont":"Liberation Sans","titleFontSize":30,"titleFontWeight":"bold","titleColor":"black","titlePadding":13,"titleX":419,"titleAlign":"center"}},
"y":{"field":"v","type":"quantitative","scale":{"domain":[14,24],"nice":false,"zero":false},"axis":{"values":[14,14.5,15,15.5,16,16.5,17,17.5,18,18.5,19,19.5,20,20.5,21,21.5,22,22.5,23,23.5,24],"labelExpr":"datum.value % 2 === 0 ? format(datum.value, '.1f') : ''","tickSize":{"condition":{"test":"datum.value % 2 === 0","value":19},"value":9},"tickWidth":2,"tickColor":"black","domainColor":"black","domainWidth":2,"grid":false,"labelOverlap":false,"labelFlush":false,"labelFont":"Liberation Sans","labelFontSize":25,"labelFontWeight":"bold","labelColor":"black","labelPadding":44,"title":"DewP 2m, °C","titleFont":"Liberation Sans","titleFontSize":32,"titleFontWeight":"bold","titleColor":"black","titlePadding":-9}},
"color":{"field":"s","type":"nominal","scale":{"domain":["ACM2","YSU","MYJ"],"range":["#ff2a00","#2a3cff","#40f000"]},"legend":{"orient":"none","legendX":74.6,"legendY":186.5,"title":null,"symbolType":"M-10,0H10","symbolSize":137,"symbolStrokeWidth":3,"labelFont":"Liberation Sans","labelFontSize":28,"labelFontWeight":"bold","labelColor":"black","labelOffset":41.7,"rowPadding":0,"padding":0}},
"strokeDash":{"field":"s","type":"nominal","scale":{"domain":["ACM2","YSU","MYJ"],"range":[[3,6],[10,6,2,6],[2.5,5.5]]}}}},
{"data":{"values":[{}]},
"mark":{"type":"text","fontSize":28,"fontWeight":"bold","font":"Liberation Sans","align":"center","baseline":"alphabetic","color":"black"},
"encoding":{"x":{"datum":285.5,"type":"quantitative","axis":null},"y":{"datum":14.72,"type":"quantitative"},"text":{"value":"(b) Dew Point"}}}
]}
]
}
